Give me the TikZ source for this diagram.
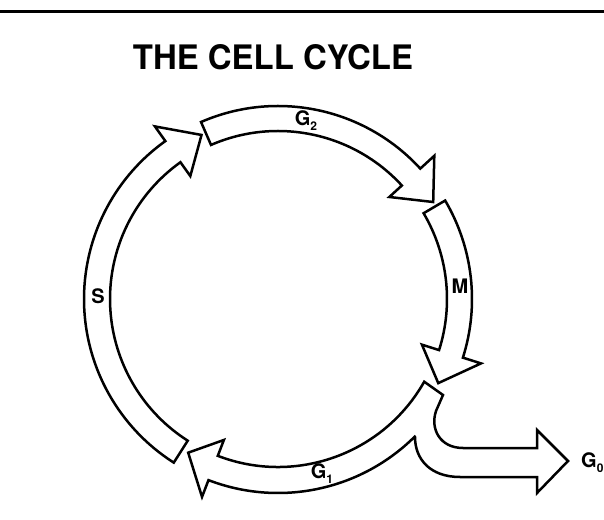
\documentclass[tikz,border=0pt]{standalone}
\usepackage{fontspec}
\setmainfont{TeX Gyre Heros}
\newcommand\glab[2]{#1\raisebox{-5pt}{\fontsize{12}{12}\selectfont #2}}
\begin{document}
\begin{tikzpicture}[x=1pt,y=1pt,
  band/.style={draw=black, line width=2.5pt, line join=miter},
  lbl/.style={font=\fontsize{20}{20}\selectfont\bfseries, inner sep=0pt}]
\useasboundingbox (0,0) rectangle (604,519);
\draw[line width=3pt] (0,507.5) -- (604,507.5);
\node[anchor=base, inner sep=0pt] (title) at (273,449) {\resizebox{280pt}{25pt}{\bfseries THE CELL CYCLE}};
\begin{scope}[shift={(278,220)}]
% S
\draw[band] (237.5:194) arc[start angle=237.5, end angle=125.5, radius=194] -- (125.5:212) -- (115:181) -- (125.5:151) -- (125.5:168) arc[start angle=125.5, end angle=237.5, radius=168] -- cycle;
% G2
\draw[band] (113.5:193) arc[start angle=113.5, end angle=42.5, radius=193] -- (42.5:212) -- (32:183) -- (42.5:151) -- (42.5:168) arc[start angle=42.5, end angle=113.5, radius=168] -- cycle;
% M
\draw[band] (30.5:194) arc[start angle=30.5, end angle=-17.6, radius=194] -- (-17.6:213) -- (-27.7:181) -- (-17.6:151) -- (-17.6:169) arc[start angle=-17.6, end angle=30.5, radius=169] -- cycle;
% G1 with G0 branch
\draw[band] (-45.2:194) arc[start angle=-45.2, end angle=-111, radius=194] -- (-111:212) -- (-120.3:178) -- (-111:151) -- (-111:168) arc[start angle=-111, end angle=-29.5, radius=168] -- (165,-96) -- (158,-112) .. controls (152,-130) and (162,-149) .. (185,-149) -- (259,-149) -- (259,-131) -- (290,-162) -- (259,-194) -- (259,-178) -- (182,-178) .. controls (152,-178) and (137,-160) .. (137,-138) -- cycle;
\node[lbl] (s) at (-180,3) {S};
\node[lbl] (m) at (182,13) {M};
\node[lbl] (g2) at (28,178) {\glab{G}{2}};
\node[lbl] (g1) at (44,-175) {\glab{G}{1}};
\node[lbl, anchor=west] (g0) at (303,-164) {\glab{G}{0}};
\end{scope}
\end{tikzpicture}
\end{document}
